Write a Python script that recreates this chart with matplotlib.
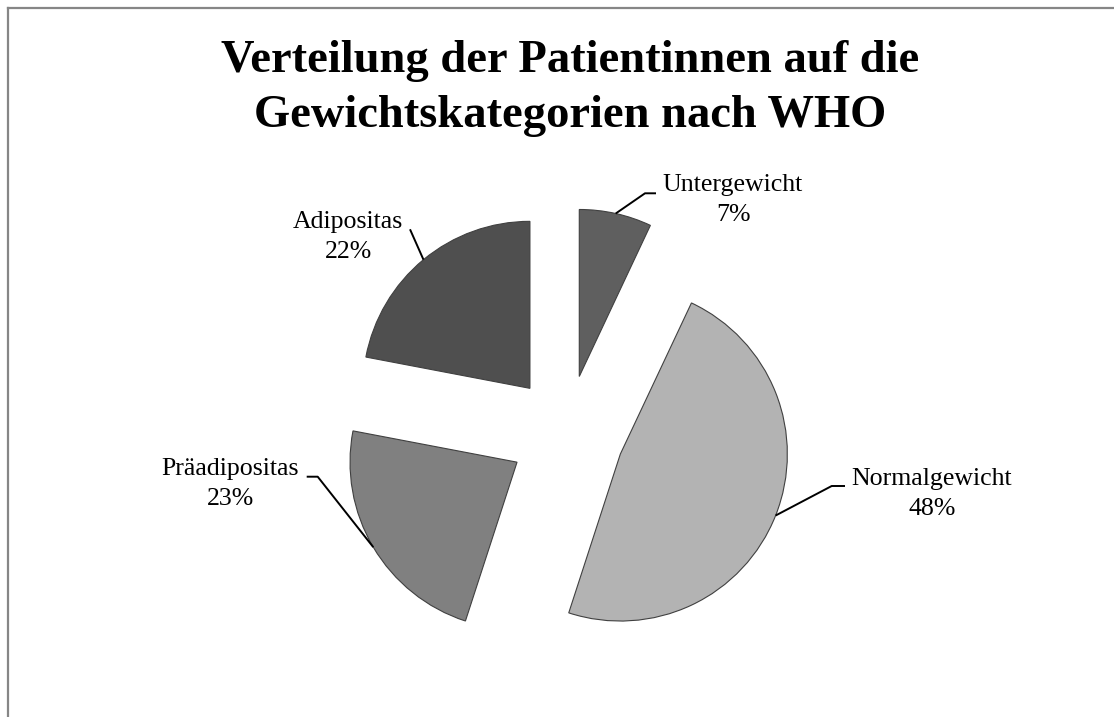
import numpy as np
import matplotlib
matplotlib.use("Agg")
import matplotlib.pyplot as plt
from matplotlib.lines import Line2D

W, H = 1114, 717

categories = ["Untergewicht", "Normalgewicht", "Präadipositas", "Adipositas"]
shares = [7, 48, 23, 22]
colors = ["#5f5f5f", "#b3b3b3", "#808080", "#4f4f4f"]

title_lines = ["Verteilung der Patientinnen auf die", "Gewichtskategorien nach WHO"]

# label layout in image pixels (x, y from top): text centre, elbow points
label_pos = {
    "Untergewicht": (733, 200),
    "Normalgewicht": (932, 494),
    "Präadipositas": (230, 484),
    "Adipositas": (348, 237),
}
elbows = {
    "Untergewicht": [(645, 193.3), (656, 193.3)],
    "Normalgewicht": [(831.7, 486), (845, 486)],
    "Präadipositas": [(317.7, 476.7), (306.7, 476.7)],
    "Adipositas": [(410, 229.3)],
}

plt.rcParams["font.family"] = ["Liberation Serif", "DejaVu Serif"]

fig = plt.figure(figsize=(W / 100, H / 100), dpi=100)
ax = fig.add_axes([0, 0, 1, 1])

center = (566.7, H - 432.8)
radius = 167
wedges, _ = ax.pie(
    shares,
    colors=colors,
    startangle=90,
    counterclock=False,
    explode=[57.7] * len(shares),  # pixel offset (data units)
    radius=radius,
    center=center,
    wedgeprops=dict(edgecolor="#404040", linewidth=0.8),
)
ax.set_xlim(0, W)
ax.set_ylim(0, H)
ax.set_aspect("auto")
ax.axis("off")

for w, name, val in zip(wedges, categories, shares):
    mid = np.deg2rad((w.theta1 + w.theta2) / 2)
    cx, cy = w.center
    ax_pt = (cx + w.r * np.cos(mid), cy + w.r * np.sin(mid))
    pts = [ax_pt] + [(x, H - y) for x, y in elbows[name]]
    xs, ys = zip(*pts)
    ax.plot(xs, ys, color="black", lw=1.4, solid_capstyle="butt")
    tx, ty = label_pos[name]
    ax.text(tx, H - ty, f"{name}\n{val}%", ha="center", va="center",
            fontsize=18.6, linespacing=1.45)

# title, one text per line on its baseline
for line, base in zip(title_lines, [71.7, 126.7]):
    ax.text(570, H - base, line, ha="center", va="baseline",
            fontsize=33.5, fontweight="bold")

# chart area border (only top and left visible)
fig.add_artist(Line2D([7.5 / W, 1], [1 - 7.5 / H, 1 - 7.5 / H],
                      color="#868686", lw=1.6, transform=fig.transFigure))
fig.add_artist(Line2D([7.5 / W, 7.5 / W], [0, 1 - 7.5 / H],
                      color="#868686", lw=1.6, transform=fig.transFigure))

fig.savefig("out.png", dpi=100)
